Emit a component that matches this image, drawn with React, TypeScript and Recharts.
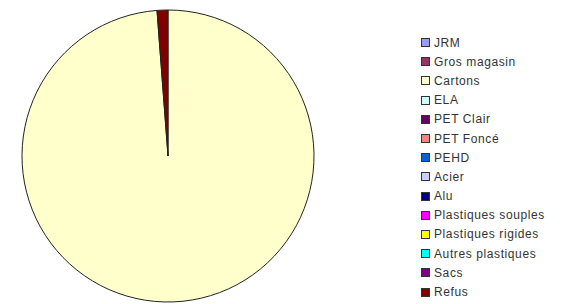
import { PieChart, Pie, Cell, Legend } from 'recharts';

const categories = [
  'JRM',
  'Gros magasin',
  'Cartons',
  'ELA',
  'PET Clair',
  'PET Foncé',
  'PEHD',
  'Acier',
  'Alu',
  'Plastiques souples',
  'Plastiques rigides',
  'Autres plastiques',
  'Sacs',
  'Refus',
];

const shares = [0, 0, 98.8, 0, 0, 0, 0, 0, 0, 0, 0, 0, 0, 1.2];

const colors = [
  '#9999FF',
  '#993366',
  '#FFFFCC',
  '#CCFFFF',
  '#660066',
  '#FF8080',
  '#0066CC',
  '#CCCCFF',
  '#000080',
  '#FF00FF',
  '#FFFF00',
  '#00FFFF',
  '#800080',
  '#800000',
];

const data = categories.map((name, i) => ({ name, value: shares[i] }));

const renderLegend = () => (
  <div style={{ fontFamily: 'Arial, "Liberation Sans", sans-serif', fontSize: 12, color: '#333' }}>
    {categories.map((name, i) => (
      <div key={name} style={{ display: 'flex', alignItems: 'center', height: 19.2 }}>
        <span
          style={{
            display: 'inline-block',
            width: 7,
            height: 7,
            background: colors[i],
            border: '1px solid #333',
            marginRight: 4,
          }}
        />
        <span style={{ letterSpacing: 0.6 }}>{name}</span>
      </div>
    ))}
  </div>
);

export default function App() {
  return (
    <div style={{ position: 'absolute', left: 0, top: 0, width: 563, height: 304, background: '#fff' }}>
      <PieChart width={563} height={304} margin={{ top: 0, right: 0, bottom: 0, left: 0 }}>
        <Pie
          data={data}
          dataKey="value"
          nameKey="name"
          cx={168}
          cy={156}
          outerRadius={146}
          startAngle={90}
          endAngle={-270}
          stroke="#222"
          strokeWidth={1}
          isAnimationActive={false}
        >
          {data.map((d, i) => (
            <Cell key={d.name} fill={colors[i]} />
          ))}
        </Pie>
        <Legend
          layout="vertical"
          align="right"
          verticalAlign="top"
          content={renderLegend}
          wrapperStyle={{ left: 421, top: 33, width: 140 }}
        />
      </PieChart>
    </div>
  );
}
